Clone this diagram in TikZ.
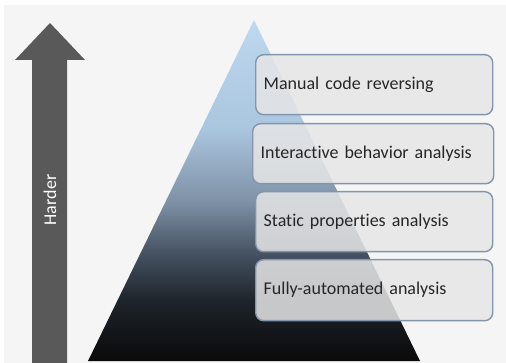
\documentclass[tikz,border=0pt]{standalone}
\usepackage{fontspec}
\setmainfont{Carlito}[Ligatures=NoCommon]
\usepackage{tikz}
\usepackage{xcolor}
\usetikzlibrary{positioning}

\definecolor{fondo}{HTML}{F5F5F5}
\definecolor{seta}{HTML}{595959}
\definecolor{borda}{HTML}{8494AC}
\definecolor{caixa}{HTML}{E6E6E6}
\definecolor{pirA}{HTML}{0A0A0A}
\definecolor{pirB}{HTML}{1E242B}
\definecolor{pirC}{HTML}{4A5868}
\definecolor{pirD}{HTML}{7F92A7}
\definecolor{pirE}{HTML}{AAC5DE}
\definecolor{pirF}{HTML}{BED8EF}
\pgfdeclareverticalshading{piramide}{100bp}{color(0bp)=(pirA); color(25bp)=(pirA);
    color(34bp)=(pirB); color(41.5bp)=(pirC); color(48.5bp)=(pirD);
    color(59bp)=(pirE); color(75bp)=(pirF); color(100bp)=(pirF)}

\begin{document}
\begin{tikzpicture}[x=1pt, y=-1pt,
        nivel/.style={rectangle, draw=borda, line width=1.4pt, fill=caixa, fill opacity=0.85,
                      text opacity=1, rounded corners=8pt, anchor=north west, align=left,
                      inner xsep=8pt, inner ysep=0pt, minimum height=60pt,
                      font=\fontsize{18}{20}\selectfont, text=black!85},
        rot/.style={font=\fontsize{18}{20}\selectfont, text=white, rotate=90}
    ]
    \useasboundingbox (0,0) rectangle (506,363);
    \fill[white] (0,0) rectangle (506,363);
    \fill[fondo] (4,5) rectangle (506,363);
    % seta da dificuldade
    \fill[seta] (32,363) -- (32,60) -- (15,60) -- (50,23) -- (85,60) -- (67,60) -- (67,363) -- cycle;
    \node[rot] (harder) at (50,200) {Harder};
    % piramide
    \coordinate (topo) at (254,20);
    \coordinate (baseE) at (88,361);
    \coordinate (baseD) at (420,361);
    \shade[shading=piramide] (topo) -- (baseE) -- (baseD) -- cycle;
    % niveis de analise
    \node[nivel, text width=221pt] (manual) at (255,54) {Manual code reversing};
    \node[nivel, text width=225pt] (inter) at (252,123) {Interactive behavior analysis};
    \node[nivel, text width=221pt] (static) at (255,191) {Static properties analysis};
    \node[nivel, text width=221pt, minimum height=61pt] (auto) at (255,259) {Fully-automated analysis};
\end{tikzpicture}
\end{document}
